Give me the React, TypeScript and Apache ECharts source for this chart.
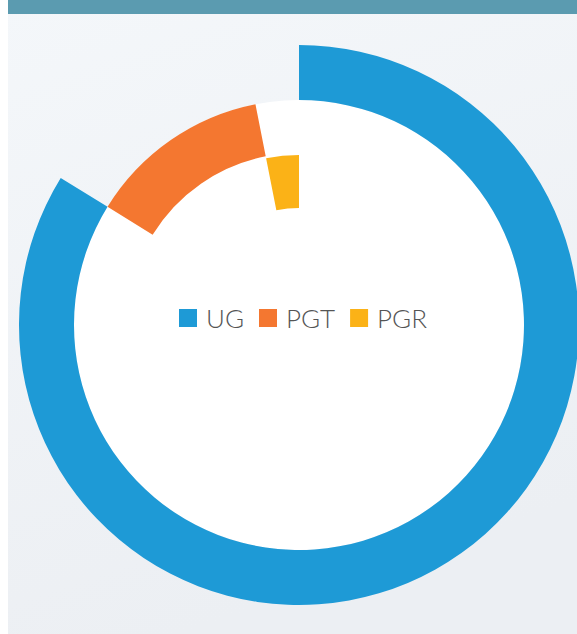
import React, { useEffect, useRef } from "react";
import * as echarts from "echarts";

const categories = ["UG", "PGT", "PGR"];
const shares = [83.8, 13.1, 3.1];
const colors = ["#1e9ad6", "#f47730", "#fbb217"];
const ringRadii = [
  [225, 280],
  [172, 225],
  [117, 170],
];

export default function App() {
  const ref = useRef<HTMLDivElement>(null);
  useEffect(() => {
    if (!ref.current) return;
    const chart = echarts.init(ref.current, null, { renderer: "svg" });
    const total = shares.reduce((a, b) => a + b, 0);
    const clear = { color: "rgba(0,0,0,0)" };
    const series = categories.map((name, i) => {
      const before = shares.slice(0, i).reduce((a, b) => a + b, 0);
      const after = total - before - shares[i];
      const data: any[] = [];
      if (before > 0) data.push({ name: "_b" + i, value: before, itemStyle: clear });
      data.push({ name, value: shares[i], itemStyle: { color: colors[i] } });
      if (after > 0) data.push({ name: "_a" + i, value: after, itemStyle: clear });
      return {
        type: "pie",
        center: [291, 325],
        radius: ringRadii[i],
        startAngle: 90,
        clockwise: true,
        silent: true,
        label: { show: false },
        labelLine: { show: false },
        emphasis: { disabled: true },
        itemStyle: { borderWidth: 0 },
        data,
      };
    });
    chart.setOption({
      animation: false,
      backgroundColor: {
        type: "linear",
        x: 0,
        y: 0,
        x2: 0.3,
        y2: 1,
        colorStops: [
          { offset: 0, color: "#f4f7fa" },
          { offset: 1, color: "#eceff3" },
        ],
      },
      graphic: [
        {
          type: "rect",
          shape: { x: 0, y: 0, width: 569, height: 14 },
          style: { fill: "#5b9bb0" },
          z: 100,
        },
        {
          type: "circle",
          shape: { cx: 291, cy: 325, r: 225 },
          style: { fill: "#ffffff" },
          z: -1,
          silent: true,
        },
      ],
      legend: {
        data: categories,
        left: 166,
        top: 300,
        icon: "rect",
        itemWidth: 18,
        itemHeight: 18,
        itemGap: 15,
        selectedMode: false,
        textStyle: {
          fontFamily: "Lato",
          fontWeight: 300,
          fontSize: 26,
          color: "#555555",
          padding: [0, 0, 0, 4],
        },
      },
      series,
    });
    return () => chart.dispose();
  }, []);
  return (
    <div
      ref={ref}
      style={{ position: "absolute", left: 8, top: 0, width: 569, height: 634 }}
    />
  );
}
